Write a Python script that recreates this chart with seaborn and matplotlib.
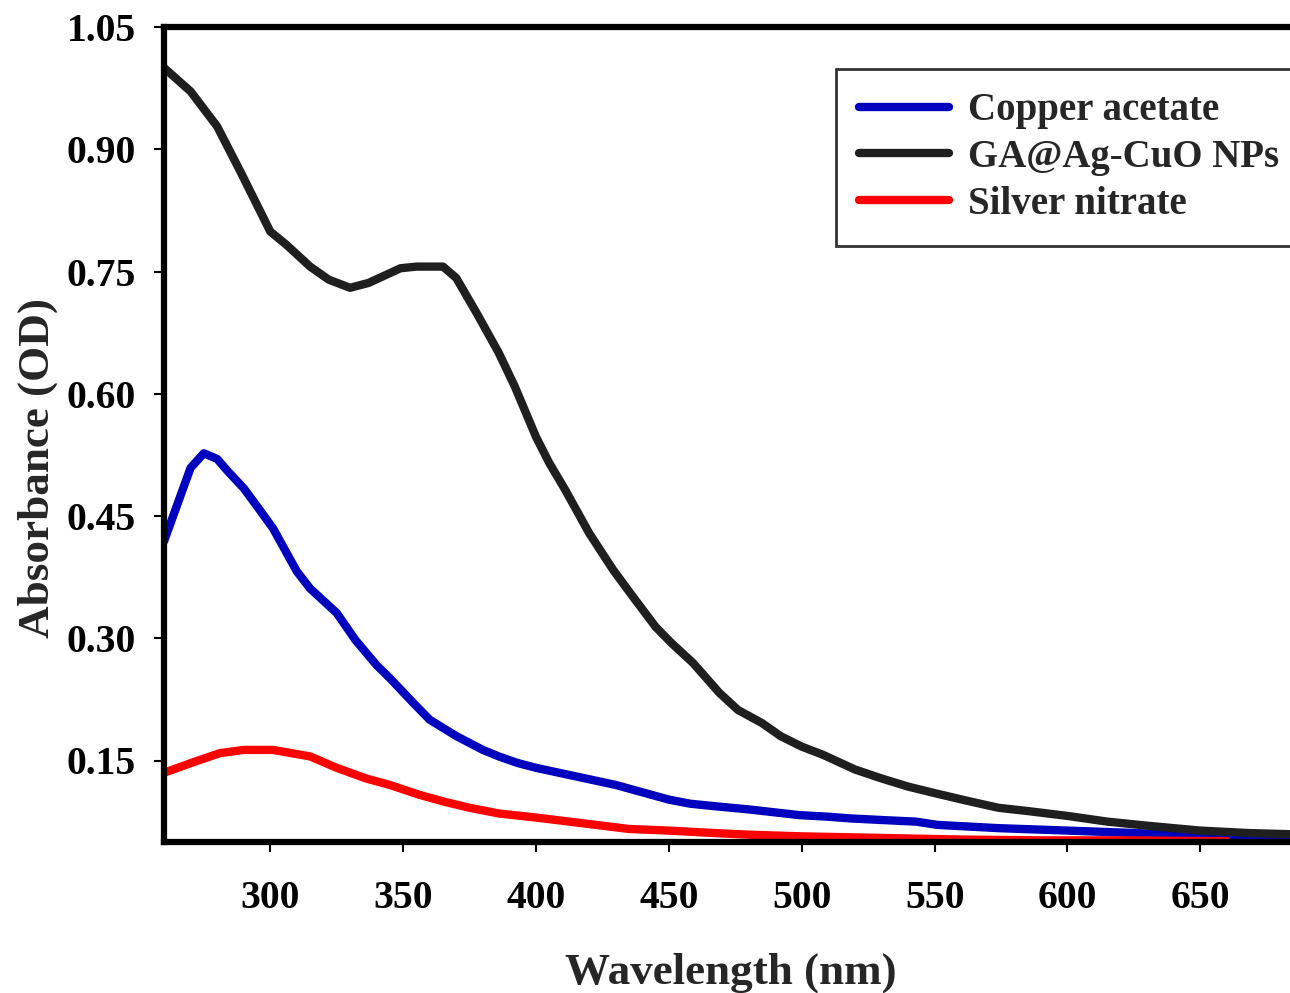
"""
UV-Vis absorbance spectra: copper acetate, silver nitrate and GA@Ag-CuO NPs
"""
import numpy as np
import pandas as pd
import matplotlib
matplotlib.use('Agg')
import matplotlib.pyplot as plt
import seaborn as sns

# Copper acetate
cu_wl = [260, 270, 275, 280, 284, 290, 295, 301, 310, 315, 325, 332, 340, 345,
         354, 360, 370, 380, 386, 393, 400, 410, 420, 430, 440, 450, 458, 467,
         480, 499, 510, 518, 530, 543, 551, 574, 600, 617, 650, 690]
cu_abs = [0.419, 0.509, 0.527, 0.520, 0.505, 0.484, 0.462, 0.435, 0.382, 0.361,
          0.331, 0.298, 0.267, 0.251, 0.220, 0.200, 0.180, 0.163, 0.155, 0.147,
          0.141, 0.134, 0.127, 0.120, 0.111, 0.102, 0.097, 0.094, 0.090, 0.083,
          0.081, 0.079, 0.077, 0.075, 0.071, 0.067, 0.064, 0.062, 0.058, 0.058]

# GA@Ag-CuO nanoparticles
np_wl = [260, 270, 280, 289, 300, 306, 315, 322, 330, 337, 343, 349, 355, 365,
         370, 378, 386, 392, 400, 405, 411, 420, 429, 436, 445, 451, 459, 469,
         476, 485, 492, 500, 508, 520, 530, 540, 550, 563, 574, 585, 600, 615,
         630, 650, 668, 690]
np_abs = [1.000, 0.971, 0.928, 0.871, 0.799, 0.783, 0.756, 0.740, 0.730, 0.736,
          0.745, 0.754, 0.756, 0.756, 0.742, 0.697, 0.650, 0.609, 0.547, 0.515,
          0.482, 0.429, 0.384, 0.353, 0.314, 0.294, 0.270, 0.233, 0.212, 0.196,
          0.180, 0.167, 0.157, 0.139, 0.128, 0.118, 0.110, 0.100, 0.092, 0.088,
          0.082, 0.075, 0.070, 0.064, 0.061, 0.059]

# Silver nitrate
ag_wl = [260, 272, 281, 290, 301, 315, 325, 336, 345, 356, 366, 375, 386, 400,
         420, 435, 450, 467, 480, 499, 530, 560, 590, 620, 660]
ag_abs = [0.135, 0.149, 0.159, 0.163, 0.163, 0.155, 0.141, 0.128, 0.120, 0.108,
          0.099, 0.092, 0.085, 0.080, 0.072, 0.066, 0.064, 0.061, 0.059, 0.057,
          0.055, 0.053, 0.052, 0.052, 0.051]

series = ['Copper acetate', 'GA@Ag-CuO NPs', 'Silver nitrate']
colors = ['#0000BE', '#1F1F1F', '#FF0000']

x_ticks = [300, 350, 400, 450, 500, 550, 600, 650]
y_ticks = [0.15, 0.30, 0.45, 0.60, 0.75, 0.90, 1.05]

df = pd.concat([
    pd.DataFrame({'wl': cu_wl, 'abs': cu_abs, 'sample': series[0]}),
    pd.DataFrame({'wl': np_wl, 'abs': np_abs, 'sample': series[1]}),
    pd.DataFrame({'wl': ag_wl, 'abs': ag_abs, 'sample': series[2]}),
], ignore_index=True)

sns.set_style('white')
plt.rcParams['font.family'] = ['Liberation Serif', 'DejaVu Serif']
plt.rcParams['font.weight'] = 'bold'

fig = plt.figure(figsize=(12.9, 9.93), dpi=100)
# axes runs off the right edge of the figure like the original
ax = fig.add_axes([164 / 1290, 151 / 993, 1132 / 1290, 815 / 993])

sns.lineplot(data=df, x='wl', y='abs', hue='sample', hue_order=series,
             palette=colors, sort=False, linewidth=6, ax=ax,
             solid_capstyle='round')

ax.set_xlim(260, 686)
ax.set_ylim(0.05, 1.05)
ax.set_xticks(x_ticks)
ax.set_yticks(y_ticks)
ax.set_yticklabels([f'{t:.2f}' for t in y_ticks])

for side in ['left', 'bottom', 'top', 'right']:
    ax.spines[side].set_linewidth(4.5)
    ax.spines[side].set_color('black')

ax.tick_params(axis='both', direction='out', length=7, width=1.5,
               labelsize=28.5, colors='black')
ax.tick_params(axis='x', pad=20, bottom=True)
ax.tick_params(axis='y', pad=13, left=True)
for lbl in ax.get_xticklabels() + ax.get_yticklabels():
    lbl.set_fontweight('bold')

ax.set_xlabel('Wavelength (nm)', fontsize=32.5, fontweight='bold')
ax.set_ylabel('Absorbance (OD)', fontsize=32.5, fontweight='bold')
ax.xaxis.set_label_coords(0.501, -0.135)
ax.yaxis.set_label_coords(-0.094, 0.459)

leg = ax.legend(loc='upper left', bbox_to_anchor=(836 / 1290, 1 - 69 / 993),
                bbox_transform=fig.transFigure, frameon=True, fancybox=False,
                prop={'size': 28, 'weight': 'bold'}, handlelength=2.3,
                handletextpad=0.5, labelspacing=0.25, borderpad=0.6,
                borderaxespad=0)
leg.get_frame().set_edgecolor('black')
leg.get_frame().set_linewidth(2)
for h in leg.get_lines():
    h.set_linewidth(6)

plt.savefig('out.png', dpi=100)
plt.close()
